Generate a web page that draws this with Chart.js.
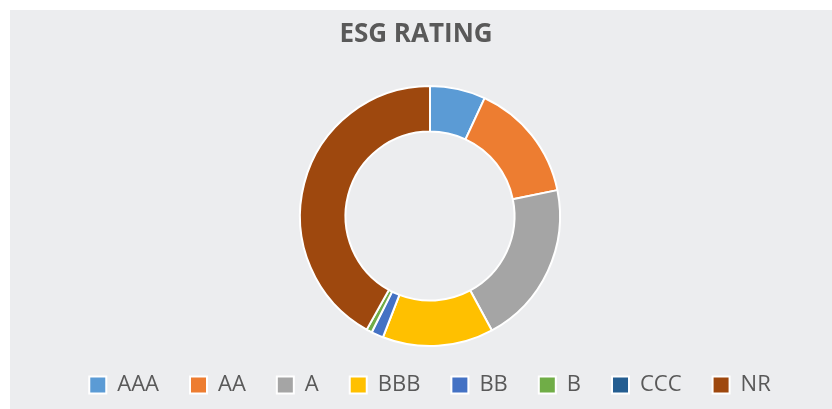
<!DOCTYPE html>
<html>
<head>
<meta charset="utf-8">
<script src="https://cdn.jsdelivr.net/npm/chart.js@4"></script>
<style>
  html, body { margin: 0; padding: 0; background: #ffffff; }
  #wrap { position: relative; width: 832px; height: 409px; }
  #bg { position: absolute; left: 10px; top: 10px; right: 0; bottom: 0; background: #ecedef; }
  canvas { position: absolute; left: 0; top: 0; }
</style>
</head>
<body>
<div id="wrap">
  <div id="bg"></div>
  <canvas id="esg" width="832" height="409"></canvas>
</div>
<script>
// ratings and their share
const ratings = ['AAA', 'AA', 'A', 'BBB', 'BB', 'B', 'CCC', 'NR']
const shares = [6.9, 14.9, 20.3, 13.8, 1.5, 0.7, 0, 41.9]
const colors = ['#5B9BD5', '#ED7D31', '#A5A5A5', '#FFC000', '#4472C4', '#70AD47', '#255E91', '#9E480E']

// keep the title centred on the whole box, not the shifted chart
const shiftTitle = {
  id: 'shiftTitle',
  afterLayout(chart) {
    chart.titleBlock.left -= 28
  }
}

const data = {
  labels: ratings,
  datasets: [{
    data: shares,
    backgroundColor: colors,
    borderColor: '#ffffff',
    borderWidth: 2,
    radius: 130,
    cutout: '65%'
  }]
}

const config = {
  type: 'doughnut',
  data: data,
  options: {
    responsive: false,
    animation: false,
    layout: { padding: { left: 28, bottom: 3 } },
    plugins: {
      title: {
        display: true,
        text: 'ESG RATING',
        color: '#595959',
        font: { family: 'Open Sans', size: 26, weight: 'bold' },
        padding: { top: 19, bottom: 39 }
      },
      legend: {
        position: 'bottom',
        labels: {
          color: '#595959',
          font: { family: 'Open Sans', size: 22 },
          boxWidth: 17,
          boxHeight: 17,
          padding: 31
        }
      },
      tooltip: { enabled: false }
    }
  },
  plugins: [shiftTitle]
}

const esgChart = new Chart(document.getElementById('esg'), config)
</script>
</body>
</html>
